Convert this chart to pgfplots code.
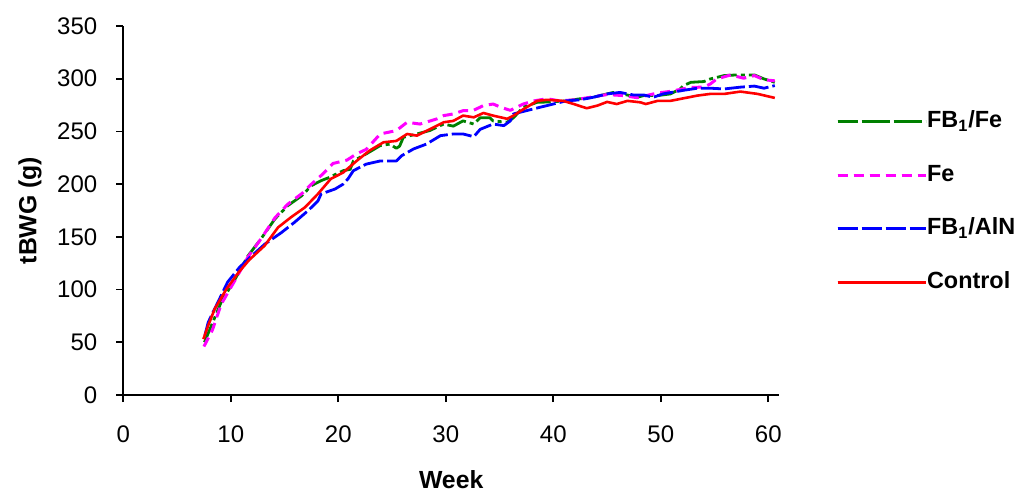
\documentclass[border=0pt]{standalone}
\usepackage{fontspec}
\setmainfont{Liberation Sans}
\usepackage{pgfplots}
\pgfplotsset{compat=1.18}
\definecolor{cgreen}{RGB}{0,128,0}
\definecolor{cmag}{RGB}{255,0,255}
\definecolor{cblue}{RGB}{0,0,255}
\definecolor{cred}{RGB}{255,0,0}
\begin{document}
\begin{tikzpicture}
\begin{axis}[
  scale only axis, width=327.9pt, height=184.5pt,
  xmin=0, xmax=61, ymin=0, ymax=350, enlargelimits=false,
  axis lines*=left, axis line style={line width=0.9pt,-},
  xtick={0,10,...,60}, ytick={0,50,...,350},
  tick align=outside, major tick length=3.5pt,
  tick style={line width=0.9pt, black},
  /pgf/number format/assume math mode=true,
  ticklabel style={font=\fontsize{12}{14}\selectfont},
  xticklabel style={anchor=base, yshift=-20pt},
  yticklabel style={anchor=east, xshift=-6pt},
  xlabel={\textbf{Week}}, ylabel={\textbf{tBWG (g)}},
  every axis x label/.style={at={(axis description cs:0.5,-0.2547)}, anchor=base, font=\fontsize{12.4}{14}\selectfont},
  every axis y label/.style={at={(axis description cs:-0.1423,0.5)}, rotate=90, anchor=center, font=\fontsize{12.4}{14}\selectfont},
  legend style={draw=none, fill=none, at={(axis description cs:1.077,0.523)}, anchor=west,
    font=\fontsize{11.7}{13}\selectfont\bfseries, row sep=14.8pt,
    nodes={inner sep=0pt, text height=9pt, text depth=3pt}},
  legend cell align=left,
]
\addplot[cgreen, line width=1.4pt, line join=round, dash pattern=on 10pt off 2pt on 2pt off 2pt,
  legend image code/.code={\draw[cgreen, line width=1.5pt, dash pattern=on 8.5pt off 4.5pt on 3pt off 5pt on 3.5pt off 5pt] (0pt,0pt) -- (38.5pt,0pt); \path (0pt,0pt) -- (44pt,0pt);}]
coordinates {
(7.55,50) (9.1,88) (10.4,110) (11.6,132) (12.8,148) (14.1,167) (15.3,179.6) (16.6,189) (17.5,198.6) (18.4,203.3) (19.2,206.5) (20.45,212.8) (21.1,214) (21.4,222) (22.6,228.7) (23.9,236.6) (24.8,238) (25.4,234) (25.7,236) (26.05,244.4) (27.3,247.6) (28.5,250.8) (29.8,257) (30.7,255) (31.6,260) (32.6,257) (33.2,263) (34.1,263) (34.4,260) (35.7,258.7) (36.3,263) (37.2,273) (38.5,277.6) (39.7,278) (41.2,279) (42.5,281) (43.7,282.4) (45,285.6) (45.6,287) (46.9,284.5) (47.8,282.4) (48.4,284) (49.7,284) (50.9,285.6) (51.8,290.3) (52.1,293.5) (52.8,296.6) (54,297.3) (54.6,299.8) (55.9,303) (57.1,303.6) (58.7,303.6) (59.6,299.8) (60.6,296.6)
};
\addlegendentry{FB\textsubscript{1}/Fe}
\addplot[cmag, line width=1.5pt, line join=round, dash pattern=on 5pt off 3pt,
  legend image code/.code={\draw[cmag, line width=1.6pt, dash pattern=on 2.5pt off 5.5pt] (0pt,0pt) -- (38.5pt,0pt); \path (0pt,0pt) -- (44pt,0pt);}]
coordinates {
(7.5,46) (8.3,62) (9.1,86) (10.4,109) (11.6,131) (12.8,148) (14.1,168) (15.3,181) (16.6,191) (17.5,200) (18.6,210) (19.5,219.6) (20.8,222.8) (21.7,228.7) (22.6,233) (23.9,247.6) (25.4,250.8) (26.4,258.7) (27.6,257) (29.2,262) (29.8,265) (30.7,266.6) (31.6,269.7) (32.5,269.7) (33.5,274.5) (34.4,276) (35.1,273) (36,270) (37.2,276) (38.2,279) (39.4,281) (40.6,279) (42,280) (43.5,282.5) (45,285) (46.5,284) (47.8,282) (49.7,286.5) (50.9,288) (52.8,291.8) (54,292) (54.6,295) (55.2,299.8) (56.5,303.6) (57.7,300.5) (58.7,303) (59.6,299) (60.6,298)
};
\addlegendentry{Fe}
\addplot[cblue, line width=1.4pt, line join=round, dash pattern=on 10pt off 2pt,
  legend image code/.code={\draw[cblue, line width=1.5pt, dash pattern=on 5pt off 9pt] (0pt,0pt) -- (38.5pt,0pt); \path (0pt,0pt) -- (44pt,0pt);}]
coordinates {
(7.6,57) (7.9,69) (8.8,88) (9.7,107) (10.8,121) (11.8,130.6) (13.15,143) (14.7,154) (15.95,164) (17.2,175) (18.1,184) (18.4,190.7) (19.7,195.4) (20.45,200) (20.9,205) (21.4,212.8) (22.6,219) (23.9,222) (25.4,222) (25.9,227) (27,233.4) (28.2,238) (29.5,246) (30.7,247.6) (31.6,247.6) (32.6,245) (33.2,252) (34.4,257) (35.4,255.5) (36,260) (36.3,266.6) (37.5,269.7) (38.8,273) (40,276) (41.2,279) (42.5,280) (43.7,282.4) (45,285.6) (46.2,287) (47.5,284.5) (48.4,284.6) (49.3,282.4) (50.2,285.6) (52.1,289) (53.4,291) (54.6,291) (55.9,290.3) (57.4,292) (58.7,293) (59.6,291) (60.6,293.5)
};
\addlegendentry{FB\textsubscript{1}/AlN}
\addplot[cred, line width=1.3pt, line join=round,
  legend image code/.code={\draw[cred, line width=1.1pt] (0pt,0pt) -- (38.5pt,0pt); \path (0pt,0pt) -- (44pt,0pt);}]
coordinates {
(7.45,53) (7.9,66) (8.5,81.6) (9.6,100.6) (10.7,116) (11.7,128) (13.15,141.7) (14.4,159) (15.6,168.6) (16.9,178) (18.1,190.7) (19.3,205) (20.45,211) (21.7,222) (22.9,231.8) (24.2,239.7) (25.4,241) (26.4,247.6) (27.3,246) (28.5,252) (29.8,258.7) (30.7,260) (31.6,265) (32.6,263.4) (33.5,267.5) (34.4,265) (35.7,262) (36.3,265) (37.2,271) (38.5,279) (39.4,280) (40.9,279) (41.9,276) (43.1,272) (44.1,274.5) (45,278) (45.9,276) (46.9,279) (48.1,277.6) (48.6,276) (49.7,279) (50.9,279) (52.1,281.4) (53.4,284) (54.6,285.6) (55.9,285.6) (57.4,287.8) (59,285.6) (60.6,281.8)
};
\addlegendentry{Control}
\end{axis}
\path[use as bounding box] (-61.65pt,-47.5pt) rectangle (450.35pt,197.5pt);
\end{tikzpicture}
\end{document}
